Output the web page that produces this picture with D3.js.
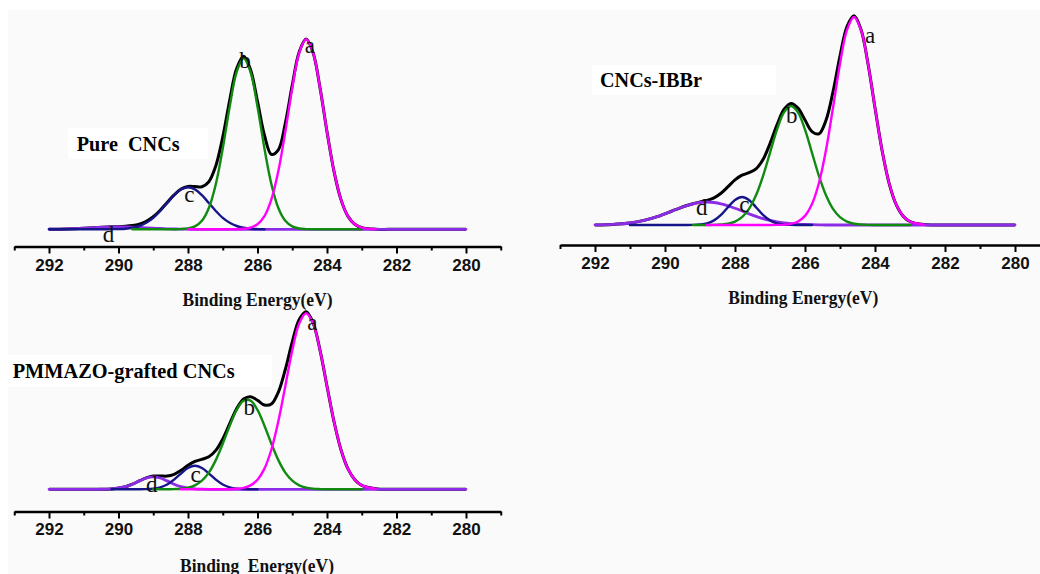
<!DOCTYPE html>
<html><head><meta charset="utf-8">
<script src="https://cdn.jsdelivr.net/npm/d3@7"></script>
<style>
html,body{margin:0;padding:0;background:#fff;}
svg{display:block;}
</style></head>
<body>
<svg id="chart" width="1040" height="574"></svg>
<script>
// ---------- DATA ----------
const energy = [
  292.0, 291.5, 291.0, 290.6, 290.2, 289.8, 289.6, 289.4, 289.2, 289.0,
  288.8, 288.6, 288.4, 288.2, 288.0, 287.8, 287.6, 287.4, 287.2, 287.0,
  286.8, 286.6, 286.4, 286.2, 286.0, 285.8, 285.6, 285.4, 285.2, 285.0,
  284.8, 284.6, 284.4, 284.2, 284.0, 283.8, 283.6, 283.4, 283.2, 283.0,
  282.6, 282.0, 281.0, 280.0];

const majorTicks = [292, 290, 288, 286, 284, 282, 280];
const minorTicks = [293, 291, 289, 287, 285, 283, 281, 279];
const tickLabels = ["292", "290", "288", "286", "284", "282", "280"];
const peakNames = ["a", "b", "c", "d"];
const sampleNames = ["Pure  CNCs", "CNCs-IBBr", "PMMAZO-grafted CNCs"];
const axisTitles = ["Binding Energy(eV)", "Binding Energy(eV)", "Binding  Energy(eV)"];

// Pure CNCs
const pureFit = [
  0.1, 0.4, 1.1, 1.9, 2.5, 3.0, 3.7, 5.2, 8.0, 12.5,
  19.1, 26.8, 34.4, 40.3, 42.9, 42.8, 42.6, 47.6, 63.4, 92.2,
  129.1, 160.7, 173.0, 159.6, 127.9, 94.1, 75.0, 79.5, 106.1, 144.2,
  177.3, 190.2, 176.5, 141.3, 97.6, 58.2, 29.9, 13.2, 5.1, 1.7,
  0.1, 0, 0, 0];
const pureA = [
  null, null, null, null, null, null, null, null, null, null,
  null, null, null, null, 0, 0, 0, 0, 0, 0,
  0, 0.1, 0.5, 1.7, 5.1, 13.2, 29.9, 58.2, 97.6, 141.3,
  176.5, 190, 176.5, 141.3, 97.6, 58.2, 29.9, 13.2, 5.1, 1.7,
  0.1, null, null, null];
const pureB = [
  null, null, null, null, null, null, 0, 0, 0, 0,
  0, 0, 0, 0.2, 0.8, 2.9, 8.5, 21.3, 45.1, 80.8,
  122.6, 157.3, 171, 157.3, 122.6, 80.8, 45.1, 21.3, 8.5, 2.9,
  0.8, 0.2, 0, 0, 0, 0, 0, 0, 0, 0,
  null, null, null, null];
const pureC = [
  0, 0, 0, 0, 0.1, 0.6, 1.5, 3.3, 6.5, 11.4,
  18.3, 26.3, 34.1, 39.9, 42, 39.9, 34.1, 26.3, 18.3, 11.4,
  6.5, 3.3, 1.5, 0.6, 0.2, 0, null, null, null, null,
  null, null, null, null, null, null, null, null, null, null,
  null, null, null, null];
const pureD = [
  0.1, 0.4, 1.1, 1.9, 2.4, 2.4, 2.2, 1.9, 1.5, 1.1,
  0.8, 0.5, 0.3, 0.2, 0.1, 0, 0, 0, 0, 0,
  0, 0, 0, 0, 0, 0, 0, 0, 0, 0,
  0, 0, 0, 0, 0, 0, 0, 0, 0, 0,
  0, 0, 0, 0];

// CNCs-IBBr
const ibbrFit = [
  0.1, 0.6, 2.0, 4.6, 8.6, 14.0, 16.7, 19.2, 21.3, 23.0,
  24.6, 27.2, 31.8, 38.3, 45.1, 49.8, 52.3, 56.1, 65.4, 81.4,
  100.1, 115.5, 121.6, 116.9, 104.9, 93.4, 91.2, 104.7, 133.3, 169.0,
  198.5, 209.3, 195.6, 161.3, 117.2, 75.0, 42.2, 20.9, 9.1, 3.5,
  0.4, 0, 0, 0];
const ibbrA = [
  null, null, null, null, null, null, null, null, null, null,
  0, 0, 0, 0, 0, 0, 0, 0, 0, 0,
  0.1, 0.4, 1.2, 3.5, 9.1, 20.9, 42.2, 75.0, 117.2, 161.2,
  195.1, 208, 195.1, 161.2, 117.2, 75.0, 42.2, 20.9, 9.1, 3.5,
  0.4, null, null, null];
const ibbrB = [
  null, null, null, null, null, null, null, null, 0, 0,
  0, 0.1, 0.5, 1.3, 3.4, 7.8, 16.1, 29.7, 48.9, 72.2,
  95.3, 112.6, 119, 112.6, 95.3, 72.2, 48.9, 29.7, 16.1, 7.8,
  3.4, 1.3, 0.5, 0.1, 0, 0, 0, 0, 0, 0,
  null, null, null, null];
const ibbrC = [
  null, null, 0, 0, 0, 0, 0, 0, 0.1, 0.5,
  1.6, 4.6, 10.1, 17.8, 25.0, 28, 25.0, 17.8, 10.1, 4.6,
  1.6, 0.5, 0.1, 0, 0, 0, null, null, null, null,
  null, null, null, null, null, null, null, null, null, null,
  null, null, null, null];
const ibbrD = [
  0.1, 0.6, 2.0, 4.6, 8.6, 14.0, 16.7, 19.2, 21.2, 22.5,
  23, 22.5, 21.2, 19.2, 16.7, 14.0, 11.2, 8.6, 6.4, 4.6,
  3.1, 2.0, 1.3, 0.8, 0.5, 0.3, 0.1, 0, 0, 0,
  0, 0, 0, 0, 0, 0, 0, 0, 0, 0,
  0, 0, 0, 0];

// PMMAZO-grafted CNCs
const pmmFit = [
  0, 0, 0, 0, 0.4, 2.6, 5.1, 8.4, 11.5, 13.2,
  13.3, 13.2, 15.0, 19.0, 24.0, 27.9, 30.0, 32.5, 38.9, 50.3,
  65.7, 80.6, 90.3, 92.6, 89.0, 84.3, 85.3, 97.2, 119.8, 147.3,
  169.8, 177.6, 166.4, 138.9, 103.1, 68.0, 39.8, 20.7, 9.6, 3.9,
  0.5, 0, 0, 0];
const pmmA = [
  null, null, null, null, null, null, null, null, null, null,
  null, null, null, 0, 0, 0, 0, 0, 0, 0,
  0.1, 0.5, 1.4, 3.9, 9.6, 20.7, 39.8, 68.0, 103.1, 138.7,
  165.8, 176, 165.8, 138.7, 103.1, 68.0, 39.8, 20.7, 9.6, 3.9,
  0.5, null, null, null];
const pmmB = [
  null, null, null, null, null, null, null, null, null, 0,
  0, 0, 0.2, 0.6, 1.6, 4.0, 8.6, 16.7, 29.2, 45.5,
  63.6, 79.4, 88.7, 88.7, 79.4, 63.6, 45.5, 29.2, 16.7, 8.6,
  4.0, 1.6, 0.6, 0.2, 0, 0, 0, 0, 0, 0,
  null, null, null, null];
const pmmC = [
  null, null, null, null, 0, 0, 0, 0, 0.2, 0.7,
  2.0, 4.8, 9.7, 15.8, 21.3, 23.5, 21.3, 15.8, 9.7, 4.8,
  2.0, 0.7, 0.2, 0, 0, null, null, null, null, null,
  null, null, null, null, null, null, null, null, null, null,
  null, null, null, null];
const pmmD = [
  0, 0, 0, 0, 0.4, 2.6, 5.1, 8.4, 11.3, 12.5,
  11.3, 8.4, 5.1, 2.6, 1.1, 0.4, 0.1, 0, 0, 0,
  0, 0, 0, 0, 0, 0, 0, 0, 0, 0,
  0, 0, 0, 0, 0, 0, 0, 0, 0, 0,
  0, 0, 0, 0];

// peak-letter anchor points (energy, intensity) per sample
const pureLabelAt = [[284.49, 176.3], [286.36, 161], [287.96, 27.6], [290.29, -12.4]];
const ibbrLabelAt = [[284.14, 181.7], [286.38, 101.7], [287.73, 12.7], [288.95, 10]];
const pmmLabelAt  = [[284.42, 159.3], [286.24, 74.3], [287.78, 7.6], [289.04, -2.4]];

// ---------- LAYOUT ----------
const compColors = ["#ff00ff", "#118a11", "#16168a", "#8c2ce6"];
const compWidths = [2.4, 2.4, 2.4, 2.8];

const panels = [
  { fit: pureFit, comps: [pureA, pureB, pureC, pureD], labels: pureLabelAt,
    xr: [14.25, 500.75], base: 229.3, axisY: 246.5, pad: 5,
    box: [68, 128, 140, 31], name: [76.7, 150.7, 103],
    title: [257.5, 306, 150] },
  { fit: ibbrFit, comps: [ibbrA, ibbrB, ibbrC, ibbrD], labels: ibbrLabelAt,
    xr: [560, 1050], base: 225, axisY: 245, pad: 5,
    box: [592, 65, 184, 30], name: [600, 87.3, 102],
    title: [803.3, 304, 150] },
  { fit: pmmFit, comps: [pmmA, pmmB, pmmC, pmmD], labels: pmmLabelAt,
    xr: [14.25, 500.75], base: 489.3, axisY: 511.5, pad: 4.5,
    box: [8, 355, 264, 32], name: [12.7, 378.3, 222],
    title: [257, 571.5, 154] }
];

const svg = d3.select("#chart");
svg.append("rect").attr("x", 0).attr("y", 0).attr("width", 1040).attr("height", 574).attr("fill", "#fff");
svg.append("rect").attr("x", 8).attr("y", 10).attr("width", 1032).attr("height", 564).attr("fill", "#fafafa");

panels.forEach((p, pi) => {
  const g = svg.append("g");
  const x = d3.scaleLinear().domain([293, 279]).range(p.xr);
  const y = d3.scaleLinear().domain([0, 200]).range([p.base, p.base - 200]);

  // sample name box
  g.append("rect").attr("x", p.box[0]).attr("y", p.box[1])
    .attr("width", p.box[2]).attr("height", p.box[3]).attr("fill", "#fff");
  g.append("text").attr("x", p.name[0]).attr("y", p.name[1])
    .attr("font-family", "'Liberation Serif','Times New Roman',serif")
    .attr("font-weight", "bold").attr("font-size", 20)
    .attr("textLength", p.name[2]).attr("lengthAdjust", "spacingAndGlyphs")
    .style("white-space", "pre")
    .text(sampleNames[pi]);

  const line = d3.line()
    .defined(d => d[1] != null)
    .x(d => x(d[0])).y(d => y(d[1]))
    .curve(d3.curveCatmullRom.alpha(0.5));

  // envelope
  g.append("path").datum(energy.map((e, i) => [e, p.fit[i]]))
    .attr("d", line).attr("fill", "none").attr("stroke", "#000")
    .attr("stroke-width", 3).attr("stroke-linejoin", "round");

  // components: d, c, b, a
  [3, 2, 1, 0].forEach(k => {
    g.append("path").datum(energy.map((e, i) => [e, p.comps[k][i]]))
      .attr("d", line).attr("fill", "none").attr("stroke", compColors[k])
      .attr("stroke-width", compWidths[k]).attr("stroke-linejoin", "round")
      .attr("stroke-linecap", "round");
  });

  // peak letters
  p.labels.forEach((L, k) => {
    g.append("text").attr("x", x(L[0])).attr("y", y(L[1]))
      .attr("text-anchor", "middle")
      .attr("font-family", "'Liberation Serif','Times New Roman',serif")
      .attr("font-size", 23).attr("fill", "#111")
      .text(peakNames[k]);
  });

  // axes
  const major = d3.axisBottom(x).tickValues(majorTicks)
    .tickFormat((d, i) => tickLabels[i]).tickSize(7).tickSizeOuter(0).tickPadding(p.pad);
  const minor = d3.axisBottom(x).tickValues(minorTicks)
    .tickFormat(() => "").tickSize(4).tickSizeOuter(0);

  const gMinor = g.append("g").attr("transform", `translate(0,${p.axisY})`).call(minor);
  gMinor.select(".domain").remove();
  gMinor.selectAll(".tick line").attr("stroke", "#000").attr("stroke-width", 2);

  const gMajor = g.append("g").attr("transform", `translate(0,${p.axisY})`).call(major);
  gMajor.select(".domain").attr("stroke", "#000").attr("stroke-width", 2.4);
  gMajor.selectAll(".tick line").attr("stroke", "#000").attr("stroke-width", 2);
  gMajor.selectAll(".tick text")
    .attr("fill", "#111")
    .attr("font-family", "'Liberation Sans',Arial,sans-serif")
    .attr("font-weight", "bold").attr("font-size", 17);

  // axis title
  g.append("text").attr("x", p.title[0]).attr("y", p.title[1])
    .attr("text-anchor", "middle")
    .attr("font-family", "'Liberation Serif','Times New Roman',serif")
    .attr("font-weight", "bold").attr("font-size", 18).attr("fill", "#111")
    .attr("textLength", p.title[2]).attr("lengthAdjust", "spacingAndGlyphs")
    .style("white-space", "pre")
    .text(axisTitles[pi]);
});
</script>
</body></html>
